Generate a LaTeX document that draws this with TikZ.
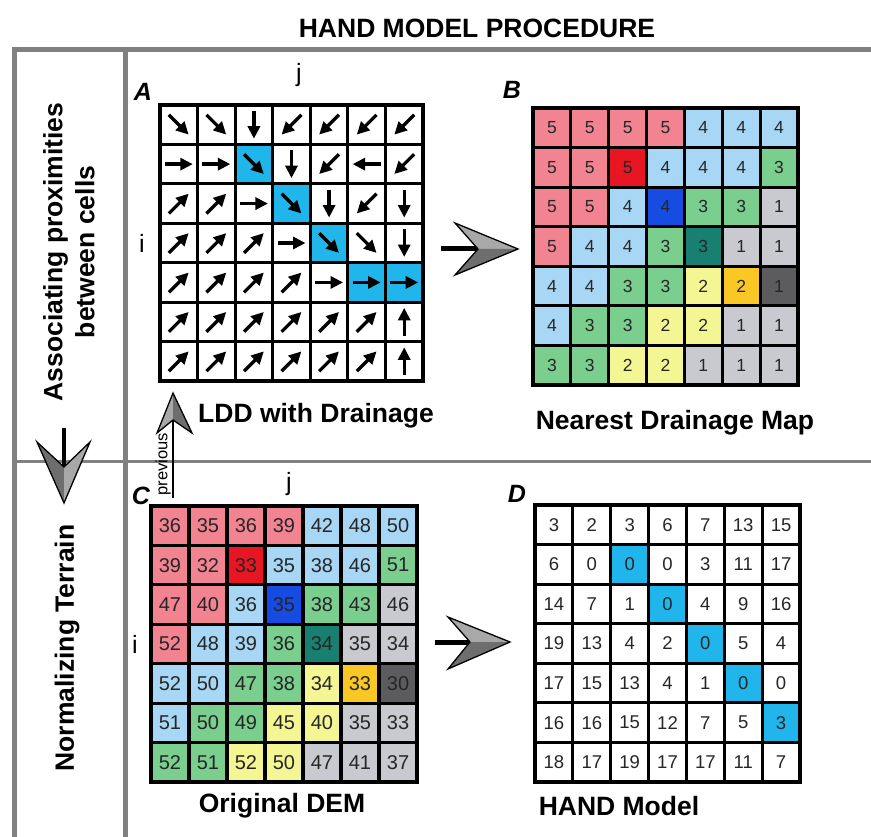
\documentclass[tikz,border=0pt]{standalone}
\usepackage{fontspec}
\setmainfont{Liberation Sans}
\usetikzlibrary{arrows.meta}
\definecolor{cP}{RGB}{242,132,146}
\definecolor{cR}{RGB}{232,22,34}
\definecolor{cL}{RGB}{168,214,245}
\definecolor{cD}{RGB}{22,76,226}
\definecolor{cG}{RGB}{122,206,142}
\definecolor{cT}{RGB}{24,128,112}
\definecolor{cS}{RGB}{200,202,208}
\definecolor{cY}{RGB}{244,246,148}
\definecolor{cO}{RGB}{250,200,36}
\definecolor{cK}{RGB}{92,92,94}
\definecolor{cC}{RGB}{32,182,236}
\definecolor{cW}{RGB}{255,255,255}
\definecolor{frameGray}{RGB}{128,128,128}
\definecolor{dartLight}{RGB}{168,168,168}
\definecolor{dartDark}{RGB}{110,110,110}
\def\Acells{{W/315,W/315,W/270,W/225,W/225,W/225,W/225},{W/0,W/0,C/315,W/270,W/225,W/180,W/225},{W/45,W/45,W/0,C/315,W/270,W/225,W/270},{W/45,W/45,W/45,W/0,C/315,W/315,W/270},{W/45,W/45,W/45,W/45,W/0,C/0,C/0},{W/45,W/45,W/45,W/45,W/45,W/45,W/90},{W/45,W/45,W/45,W/45,W/45,W/45,W/90}}
\def\Bcells{{P/5,P/5,P/5,P/5,L/4,L/4,L/4},{P/5,P/5,R/5,L/4,L/4,L/4,G/3},{P/5,P/5,L/4,D/4,G/3,G/3,S/1},{P/5,L/4,L/4,G/3,T/3,S/1,S/1},{L/4,L/4,G/3,G/3,Y/2,O/2,K/1},{L/4,G/3,G/3,Y/2,Y/2,S/1,S/1},{G/3,G/3,Y/2,Y/2,S/1,S/1,S/1}}
\def\Ccells{{P/36,P/35,P/36,P/39,L/42,L/48,L/50},{P/39,P/32,R/33,L/35,L/38,L/46,G/51},{P/47,P/40,L/36,D/35,G/38,G/43,S/46},{P/52,L/48,L/39,G/36,T/34,S/35,S/34},{L/52,L/50,G/47,G/38,Y/34,O/33,K/30},{L/51,G/50,G/49,Y/45,Y/40,S/35,S/33},{G/52,G/51,Y/52,Y/50,S/47,S/41,S/37}}
\def\Dcells{{W/3,W/2,W/3,W/6,W/7,W/13,W/15},{W/6,W/0,C/0,W/0,W/3,W/11,W/17},{W/14,W/7,W/1,C/0,W/4,W/9,W/16},{W/19,W/13,W/4,W/2,C/0,W/5,W/4},{W/17,W/15,W/13,W/4,W/1,C/0,W/0},{W/16,W/16,W/15,W/12,W/7,W/5,C/3},{W/18,W/17,W/19,W/17,W/17,W/11,W/7}}
% #1 name, #2 x0, #3 y0, #4 cell w, #5 cell h, #6 list, #7 font size
\newcommand\drawgrid[7]{%
  \foreach \row [count=\r] in #6 {
    \foreach \cc/\v [count=\k] in \row {
      \node[gcell, fill=c\cc, minimum width=#4pt, minimum height=#5pt,
            font=\fontsize{#7}{#7}\selectfont] (#1-\r-\k)
        at ({#2+(\k-0.5)*#4},{#3+(\r-0.5)*#5}) {\v};
    }
  }
  \draw[line width=4pt] (#2,#3) rectangle ({#2+7*#4},{#3+7*#5});
}
% #1 notch, #2 wing 1, #3 tip, #4 wing 2, #5 colour of half 1, #6 colour of half 2
\newcommand\dart[6]{%
  \fill[#5] (#1) -- (#2) -- (#3) -- cycle;
  \fill[#6] (#1) -- (#3) -- (#4) -- cycle;
  \draw[line width=1.3pt, line join=miter] (#1) -- (#2) -- (#3) -- (#4) -- cycle;
}
\begin{document}
\begin{tikzpicture}[x=1pt,y=-1pt,
  gcell/.style={rectangle, draw=black, line width=3.2pt, inner sep=0pt, text=black!85},
  framel/.style={draw=frameGray, line width=5pt, line join=miter},
  lddarrow/.style={line width=3.3pt, -{Triangle[length=12.5pt,width=12pt]}},
  bigtext/.style={font=\bfseries\fontsize{26.5}{32}\selectfont, align=center},
  caption/.style={font=\bfseries\fontsize{26.5}{30}\selectfont},
  panel/.style={font=\bfseries\itshape\fontsize{25}{30}\selectfont},
  index/.style={font=\fontsize{25}{30}\selectfont}]
\useasboundingbox (0,0) rectangle (871,837);
% frame
\draw[framel] (14,837) -- (14,50) -- (871,50);
\draw[framel] (125.5,50) -- (125.5,837);
\draw[draw=frameGray, line width=3pt] (14,461) -- (871,461);
% title and row labels
\node[bigtext] (title) at (477,28) {HAND MODEL PROCEDURE};
\node[bigtext, rotate=90] (rowA) at (69,252) {Associating proximities\\between cells};
\node[bigtext, rotate=90] (rowB) at (67,648) {Normalizing Terrain};
% down arrow between rows
\coordinate (dn0) at (64,428);
\coordinate (dn1) at (64,467);
\coordinate (dnw1) at (37,442);
\coordinate (dntip) at (64,503);
\coordinate (dnw2) at (90,442);
\draw[line width=4pt] (dn0) -- (dn1);
\dart{dn1}{dnw1}{dntip}{dnw2}{dartDark}{dartLight}
% grid A (flow directions)
\foreach \row [count=\r] in \Acells {
  \foreach \f/\a [count=\k] in \row {
    \node[gcell, fill=c\f, minimum width=37.571pt, minimum height=39.43pt] (A-\r-\k)
      at ({160+(\k-0.5)*37.571},{105+(\r-0.5)*39.43}) {};
  }
}
\draw[line width=4pt] (160,105) rectangle (423,381);
\foreach \row [count=\r] in \Acells {
  \foreach \f/\a [count=\k] in \row {
    \draw[lddarrow] ([shift={(\a+180:14pt)}]A-\r-\k.center) -- ([shift={(\a:14pt)}]A-\r-\k.center);
  }
}
\drawgrid{B}{533}{108}{37.857}{39.57}{\Bcells}{17.5}
\drawgrid{C}{151}{506}{38}{39.43}{\Ccells}{20}
\drawgrid{D}{535}{505}{37.857}{39.57}{\Dcells}{18.5}
% panel letters and indices
\node[panel] (labA) at (143,92) {A};
\node[panel] (labB) at (512,90) {B};
\node[panel] (labC) at (141,496) {C};
\node[panel] (labD) at (517,494) {D};
\node[index] (jA) at (299,75) {j};
\node[index] (iA) at (142,243) {i};
\node[index] (jC) at (289,484) {j};
\node[index] (iC) at (135,644) {i};
% captions
\node[caption] (capA) at (316,416) {LDD with Drainage};
\node[caption] (capB) at (675,423) {Nearest Drainage Map};
\node[caption] (capC) at (282,806) {Original DEM};
\node[caption] (capD) at (619,806) {HAND Model};
% A -> B
\coordinate (ab0) at (441,249);
\coordinate (ab1) at (478,249);
\coordinate (abw1) at (455,223);
\coordinate (abtip) at (518,249);
\coordinate (abw2) at (455,275);
\draw[line width=5pt] (ab0) -- (ab1);
\dart{ab1}{abw1}{abtip}{abw2}{dartLight}{dartDark}
% C -> D
\coordinate (cd0) at (435,642);
\coordinate (cd1) at (470,642);
\coordinate (cdw1) at (448,617);
\coordinate (cdtip) at (510,642);
\coordinate (cdw2) at (448,669);
\draw[line width=5pt] (cd0) -- (cd1);
\dart{cd1}{cdw1}{cdtip}{cdw2}{dartLight}{dartDark}
% previous arrow (C up to A)
\coordinate (pv0) at (173,498);
\coordinate (pv1) at (173,420);
\coordinate (pvw1) at (157,433);
\coordinate (pvtip) at (173,393);
\coordinate (pvw2) at (192,433);
\draw[line width=2.5pt] (pv0) -- (pv1);
\dart{pv1}{pvw1}{pvtip}{pvw2}{dartLight}{dartDark}
\node[rotate=90, font=\fontsize{16.5}{18}\selectfont] (prev) at (163,464) {previous};
\end{tikzpicture}
\end{document}
